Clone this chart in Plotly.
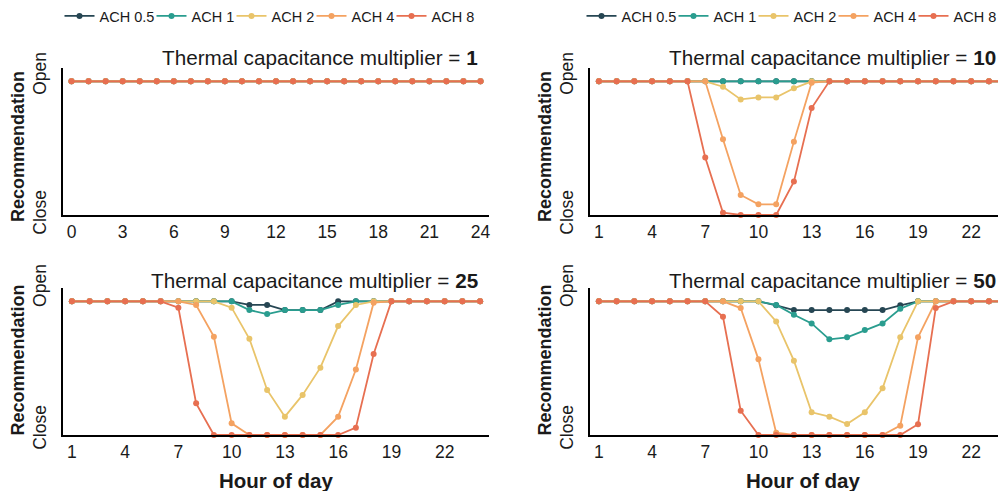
import plotly.graph_objects as go

# ---------------- data ----------------
series_names = ["ACH 0.5", "ACH 1", "ACH 2", "ACH 4", "ACH 8"]
series_colors = ["#264653", "#2a9d8f", "#e9c46a", "#f4a261", "#e76f51"]

hours_0_24 = list(range(0, 25))
hours_1_24 = list(range(1, 25))

# Thermal capacitance multiplier = 1 (hours 0..24): always open
tc1 = {
    "ACH 0.5": [1] * 25,
    "ACH 1":   [1] * 25,
    "ACH 2":   [1] * 25,
    "ACH 4":   [1] * 25,
    "ACH 8":   [1] * 25,
}

# Thermal capacitance multiplier = 10 (hours 1..24)
tc10 = {
    "ACH 0.5": [1] * 24,
    "ACH 1":   [1] * 24,
    "ACH 2":   [1, 1, 1, 1, 1, 1, 1, 0.96, 0.865, 0.88, 0.88, 0.948, 1, 1, 1, 1, 1, 1, 1, 1, 1, 1, 1, 1],
    "ACH 4":   [1, 1, 1, 1, 1, 1, 1, 0.566, 0.15, 0.08, 0.08, 0.549, 0.99, 1, 1, 1, 1, 1, 1, 1, 1, 1, 1, 1],
    "ACH 8":   [1, 1, 1, 1, 1, 1, 0.431, 0.017, 0, 0, 0, 0.25, 0.80, 1, 1, 1, 1, 1, 1, 1, 1, 1, 1, 1],
}

# Thermal capacitance multiplier = 25 (hours 1..24)
tc25 = {
    "ACH 0.5": [1, 1, 1, 1, 1, 1, 1, 1, 1, 1, 0.973, 0.973, 0.935, 0.935, 0.935, 1, 1, 1, 1, 1, 1, 1, 1, 1],
    "ACH 1":   [1, 1, 1, 1, 1, 1, 1, 1, 1, 1, 0.935, 0.905, 0.935, 0.935, 0.935, 0.973, 1, 1, 1, 1, 1, 1, 1, 1],
    "ACH 2":   [1, 1, 1, 1, 1, 1, 1, 1, 1, 0.953, 0.72, 0.337, 0.137, 0.30, 0.504, 0.815, 0.973, 1, 1, 1, 1, 1, 1, 1],
    "ACH 4":   [1, 1, 1, 1, 1, 1, 1, 0.973, 0.736, 0.087, 0, 0, 0, 0, 0, 0.137, 0.49, 0.99, 1, 1, 1, 1, 1, 1],
    "ACH 8":   [1, 1, 1, 1, 1, 1, 0.953, 0.237, 0, 0, 0, 0, 0, 0, 0, 0, 0.055, 0.606, 1, 1, 1, 1, 1, 1],
}

# Thermal capacitance multiplier = 50 (hours 1..24)
tc50 = {
    "ACH 0.5": [1, 1, 1, 1, 1, 1, 1, 1, 1, 1, 0.97, 0.935, 0.935, 0.935, 0.935, 0.935, 0.935, 0.97, 1, 1, 1, 1, 1, 1],
    "ACH 1":   [1, 1, 1, 1, 1, 1, 1, 1, 1, 1, 0.973, 0.90, 0.835, 0.716, 0.731, 0.786, 0.835, 0.945, 1, 1, 1, 1, 1, 1],
    "ACH 2":   [1, 1, 1, 1, 1, 1, 1, 1, 1, 1, 0.85, 0.556, 0.17, 0.137, 0.082, 0.17, 0.349, 0.731, 1, 1, 1, 1, 1, 1],
    "ACH 4":   [1, 1, 1, 1, 1, 1, 1, 1, 0.95, 0.566, 0.017, 0, 0, 0, 0, 0, 0, 0.07, 0.731, 1, 1, 1, 1, 1],
    "ACH 8":   [1, 1, 1, 1, 1, 1, 1, 0.885, 0.182, 0, 0, 0, 0, 0, 0, 0, 0, 0, 0.08, 0.95, 1, 1, 1, 1],
}

multipliers = ["1", "10", "25", "50"]
x_ticks_tc1 = [0, 3, 6, 9, 12, 15, 18, 21, 24]
x_ticks_other = [1, 4, 7, 10, 13, 16, 19, 22]
y_tick_text = ["Close", "Open"]

# ---------------- layout geometry ----------------
# The page body has an 8px default margin, so the figure is sized/positioned
# so that its content lands at the intended window pixels.
OFF = 8
W, H = 1006 - OFF, 491 - OFF
FONT = "Liberation Sans, Arial, sans-serif"
TXT = "#1a1a1a"
LEG_SIZE = 14.5
legend_entry_widths = [47, 35, 35, 35, 44]


def px_x(p):
    return (p - OFF) / W


def px_y(p):
    return (H - (p - OFF)) / H


panels = [
    dict(data=tc1, hours=hours_0_24, xr=[-0.5, 24.5], xd=(63, 489), yd=(68, 215),
         ticks=x_ticks_tc1, legend="legend", showleg=True, xtitle=False,
         ytv=[0, 1.04], ytitle_y=146.5, title_y=57, title_left=None),
    dict(data=tc10, hours=hours_1_24, xr=[0.5, 0.5 + (1006 - 590) / 17.73], xd=(590, 1006), yd=(68, 215),
         ticks=x_ticks_other, legend="legend2", showleg=True, xtitle=False,
         ytv=[0, 1.04], ytitle_y=146.5, title_y=57, title_left=667),
    dict(data=tc25, hours=hours_1_24, xr=[0.5, 24.5], xd=(63, 489), yd=(288, 435),
         ticks=x_ticks_other, legend="legend", showleg=False, xtitle=True,
         ytv=[0.037, 1.099], ytitle_y=360, title_y=280, title_left=None),
    dict(data=tc50, hours=hours_1_24, xr=[0.5, 0.5 + (1006 - 590) / 17.73], xd=(590, 1006), yd=(288, 435),
         ticks=x_ticks_other, legend="legend2", showleg=False, xtitle=True,
         ytv=[0.037, 1.099], ytitle_y=360, title_y=280, title_left=667),
]

fig = go.Figure()
annotations = []

for i, p in enumerate(panels):
    n = "" if i == 0 else str(i + 1)
    xa, ya = "x" + n, "y" + n
    for name, color, lw in zip(series_names, series_colors, legend_entry_widths):
        fig.add_trace(go.Scatter(
            x=p["hours"], y=p["data"][name], name=name,
            mode="lines+markers",
            line=dict(color=color, width=1.8),
            marker=dict(color=color, size=6),
            xaxis=xa, yaxis=ya, legend=p["legend"], legendwidth=lw,
            showlegend=p["showleg"], cliponaxis=False,
        ))
    axis_common = dict(showgrid=False, zeroline=False, showline=True,
                       linecolor="black", linewidth=2, ticks="", automargin=False,
                       tickfont=dict(family=FONT, size=17.5, color=TXT))
    fig.layout["xaxis" + n] = dict(
        axis_common, domain=[px_x(p["xd"][0]), min(1.0, px_x(p["xd"][1]))], range=p["xr"],
        tickmode="array", tickvals=p["ticks"], anchor=ya, ticklabelstandoff=0)
    fig.layout["yaxis" + n] = dict(
        axis_common, domain=[px_y(p["yd"][1]), px_y(p["yd"][0])], range=[0, 1.1],
        tickmode="array", tickvals=p["ytv"], ticktext=y_tick_text,
        tickangle=-90, anchor=xa, ticklabelstandoff=8)
    # panel title
    title_text = "Thermal capacitance multiplier = <b>%s</b>" % multipliers[i]
    if p["title_left"] is None:
        annotations.append(dict(
            text=title_text, xref=xa, x=24, xanchor="right",
            yref="paper", y=px_y(p["title_y"]), yanchor="middle",
            showarrow=False, font=dict(family=FONT, size=20.7, color=TXT)))
    else:
        annotations.append(dict(
            text=title_text, xref="paper", x=px_x(p["title_left"]), xanchor="left",
            yref="paper", y=px_y(p["title_y"]), yanchor="middle",
            showarrow=False, font=dict(family=FONT, size=20.7, color=TXT)))
    # y title
    annotations.append(dict(
        text="<b>Recommendation</b>", textangle=-90, borderpad=0,
        xref="paper", x=px_x(p["xd"][0] - 45.5), xanchor="center",
        yref="paper", y=px_y(p["ytitle_y"]), yanchor="middle",
        showarrow=False, font=dict(family=FONT, size=18, color=TXT)))
    if p["xtitle"]:
        annotations.append(dict(
            text="<b>Hour of day</b>",
            xref=xa, x=12.5, xanchor="center",
            yref="paper", y=px_y(480), yanchor="middle",
            showarrow=False, font=dict(family=FONT, size=20.5, color=TXT)))

fig.update_layout(
    width=W, height=H,
    margin=dict(l=0, r=0, t=0, b=0, pad=0, autoexpand=False),
    paper_bgcolor="white", plot_bgcolor="white",
    font=dict(family=FONT, color=TXT),
    annotations=annotations,
    legend=dict(orientation="h", x=px_x(270), xanchor="center", y=px_y(16), yanchor="middle",
                font=dict(family=FONT, size=LEG_SIZE, color=TXT), bgcolor="rgba(0,0,0,0)"),
    legend2=dict(orientation="h", x=px_x(792), xanchor="center", y=px_y(16), yanchor="middle",
                 font=dict(family=FONT, size=LEG_SIZE, color=TXT), bgcolor="rgba(0,0,0,0)"),
)

fig.write_html("out.html")
